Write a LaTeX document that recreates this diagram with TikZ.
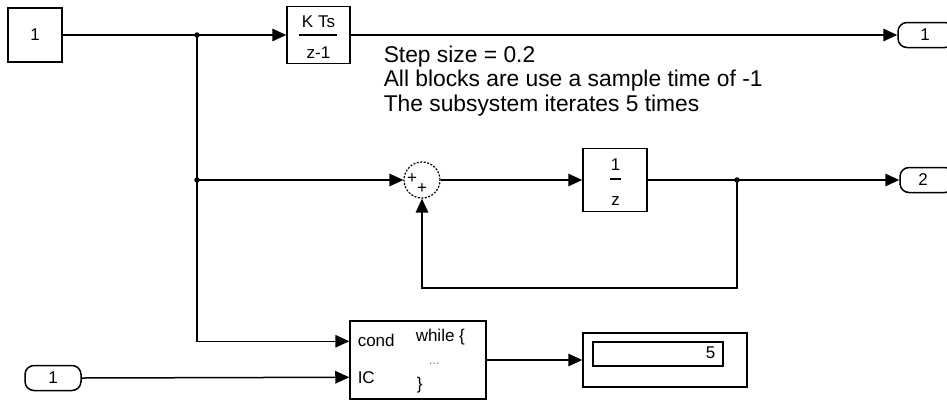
\documentclass[tikz,border=0pt]{standalone}
\usepackage{fontspec}
\setmainfont{Liberation Sans}
\usetikzlibrary{arrows.meta,calc}
\begin{document}
\begin{tikzpicture}[x=1pt,y=-1pt,line width=1.5pt,
  sig/.style={-{Triangle[length=14pt,width=12.5pt]}},
  blk/.style={draw,inner sep=0pt},
  port/.style={draw,inner sep=0pt,rounded corners=9pt,minimum width=56pt,minimum height=25pt},
  lbl/.style={font=\fontsize{17}{19}\selectfont,inner sep=0pt},
  note/.style={font=\fontsize{22.8}{24}\selectfont,anchor=base west,inner sep=0pt},
  jdot/.style={circle,fill,inner sep=0pt,minimum size=5.5pt}]
\useasboundingbox (0,0) rectangle (947,400);
\clip (0,0) rectangle (947,400);
\fill[white] (0,0) rectangle (947,400);
% blocks
\node[blk,minimum width=54pt,minimum height=54pt] (const) at (35,35) {};
\node[lbl] (constlbl) at (35,35) {1};
\node[blk,minimum width=63pt,minimum height=57pt] (kts) at (318.5,35) {};
\node[lbl,anchor=base] (ktsnum) at (318.5,27) {K Ts};
\draw[line width=1.3pt] (299,35) -- (337,35);
\node[lbl,anchor=base] (ktsden) at (318.5,58) {z-1};
\node[port] (out1) at (926,35) {};
\node[lbl] (out1lbl) at (925,35) {1};
\node[draw,circle,dash pattern=on 2pt off 1.5pt,line width=1.2pt,minimum size=36pt,inner sep=0pt] (sum) at (422,180) {};
\node[lbl,font=\fontsize{17}{19}\selectfont] (p1) at (412,179) {+};
\node[lbl,font=\fontsize{17}{19}\selectfont] (p2) at (422,189) {+};
\node[blk,minimum width=64pt,minimum height=63pt] (uz) at (615,180) {};
\node[lbl,anchor=base] (uznum) at (615.5,170) {1};
\draw[line width=1.3pt] (610,179) -- (621,179);
\node[lbl,anchor=base] (uzden) at (615.5,205) {z};
\node[port,minimum width=54pt] (out2) at (927,180) {};
\node[lbl] (out2lbl) at (923,180) {2};
\node[blk,minimum width=136pt,minimum height=78pt] (while) at (418,360) {};
\node[lbl,anchor=base west] (condlbl) at (357,346) {cond};
\node[lbl,anchor=base west] (iclbl) at (357,383) {IC};
\node[lbl,anchor=base west] (whilelbl) at (415,341) {while \{};
\node[lbl,anchor=base west,font=\fontsize{13}{15}\selectfont,text=gray] (dots) at (428,364) {...};
\node[lbl,anchor=base west] (brace) at (416,389) {\}};
\node[blk,minimum width=164pt,minimum height=54pt] (disp) at (665,360) {};
\node[blk,line width=1.3pt,minimum width=130pt,minimum height=24pt] (dispin) at (658,354) {};
\node[lbl,anchor=east] (dispval) at (716,353) {5};
\node[port] (in1) at (53,378) {};
\node[lbl] (in1lbl) at (53,378) {1};
% notes
\node[note] (n1) at (383,62) {Step size = 0.2};
\node[note] (n2) at (383,86.5) {All blocks are use a sample time of -1};
\node[note] (n3) at (383,111) {The subsystem iterates 5 times};
% ports on while block
\path (while.north west) ++(0,21) coordinate (pcond);
\path (while.north west) ++(0,57) coordinate (pic);
\coordinate (b1) at (197,35);
\coordinate (b2) at (197,180);
\coordinate (b3) at (737,180);
% connectors
\draw[sig] (const.east) -- (kts.west);
\draw[sig] (kts.east) -- (out1.west);
\draw[sig] (b1) |- (pcond);
\draw[sig] (b2) -- (sum.west);
\draw[sig] (sum.east) -- (uz.west);
\draw[sig] (uz.east) -- (out2.west);
\draw[sig] (b3) -- ++(0,108) -| (sum.south);
\draw[sig] (in1.east) -- (pic);
\draw[sig] (while.east) -- (disp.west);
\node[jdot] (d1) at (b1) {};
\node[jdot] (d2) at (b2) {};
\node[jdot] (d3) at (b3) {};
\end{tikzpicture}
\end{document}
